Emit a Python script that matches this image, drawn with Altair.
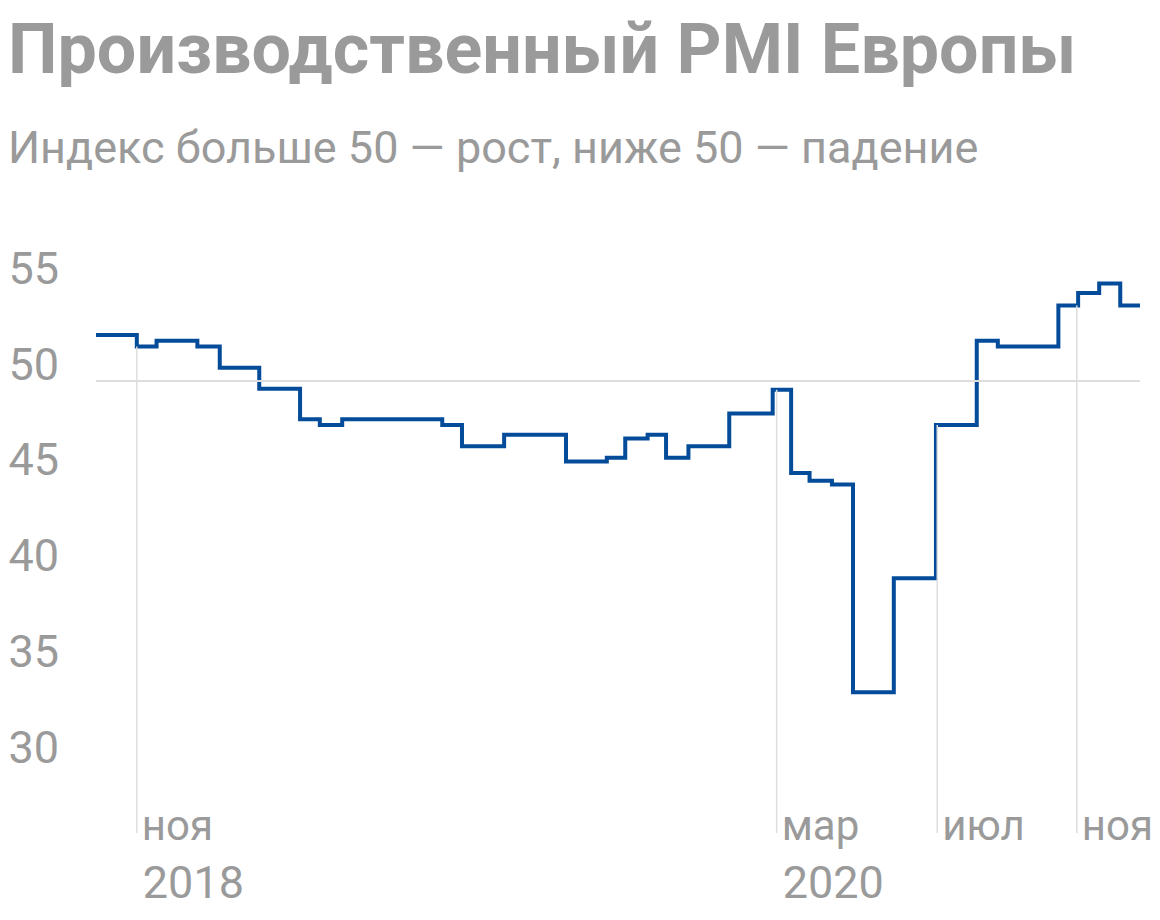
import altair as alt
import pandas as pd

# ---- data ----
dates = [
    "2018-10-01", "2018-11-01", "2018-11-16", "2018-12-17", "2019-01-03",
    "2019-02-02", "2019-03-05", "2019-03-20", "2019-04-06", "2019-06-21",
    "2019-07-06", "2019-08-07", "2019-09-23", "2019-10-24", "2019-11-07",
    "2019-11-24", "2019-12-08", "2019-12-25", "2020-01-25", "2020-02-27",
    "2020-03-12", "2020-03-26", "2020-04-12", "2020-04-28", "2020-05-29",
    "2020-06-30", "2020-07-31", "2020-08-16", "2020-10-01", "2020-10-16",
    "2020-11-01", "2020-11-17",
]
values = [
    52.4, 51.8, 52.1, 51.8, 50.7,
    49.6, 48.0, 47.7, 48.0, 47.7,
    46.6, 47.2, 45.8, 46.0, 47.0,
    47.2, 46.0, 46.6, 48.3, 49.55,
    45.2, 44.8, 44.6, 33.75, 39.7,
    47.7, 52.1, 51.8, 53.95, 54.6,
    55.1, 53.95,
]
end_date = "2020-12-02"

tick_dates = ["2018-11-01", "2020-03-01", "2020-07-01", "2020-10-15"]
tick_months = ["ноя", "мар", "июл", "ноя"]
tick_years = ["2018", "2020", "", ""]
y_ticks = [30, 35, 40, 45, 50, 55]

title_text = "Производственный PMI Европы"
subtitle_text = "Индекс больше 50 — рост, ниже 50 — падение"

# ---- layout ----
W, H = 1044, 586
YMIN, YMAX = 26.4, 57
GRAY = "#9a9a9a"
BLUE = "#044c99"
FONT = "Roboto"

series = pd.DataFrame({"date": dates + [end_date], "pmi": values + [values[-1]]})


def value_at(d):
    v = values[0]
    for dd, vv in zip(dates, values):
        if pd.Timestamp(dd) <= pd.Timestamp(d):
            v = vv
    return v


ticks_df = pd.DataFrame({
    "date": tick_dates,
    "month": tick_months,
    "year": tick_years,
    "top": [value_at(d) for d in tick_dates],
    "bottom": [YMIN] * len(tick_dates),
})

x_scale = alt.Scale(nice=False)
y_scale = alt.Scale(domain=[YMIN, YMAX], nice=False, zero=False)

y_axis = alt.Axis(
    values=y_ticks, ticks=False, domain=False, grid=False,
    labelAlign="left", labelBaseline="alphabetic", labelPadding=88,
    labelOffset=-2, labelFontSize=45, labelColor=GRAY, labelFont=FONT,
    title=None,
)

line = alt.Chart(series).mark_line(
    interpolate="step-after", color=BLUE, strokeWidth=4, strokeJoin="miter"
).encode(
    x=alt.X("date:T", scale=x_scale, axis=None),
    y=alt.Y("pmi:Q", scale=y_scale, axis=y_axis),
)

hline = alt.Chart(pd.DataFrame({"pmi": [50]})).mark_rule(
    color="#dddddd", strokeWidth=2
).encode(y=alt.Y("pmi:Q"))

vrules = alt.Chart(ticks_df).mark_rule(color="#dddddd", strokeWidth=1.5).encode(
    x=alt.X("date:T"),
    y=alt.Y("top:Q"),
    y2="bottom:Q",
)

month_labels = alt.Chart(ticks_df).mark_text(
    align="left", baseline="alphabetic", dx=5, fontSize=42, color=GRAY, font=FONT
).encode(x=alt.X("date:T"), y=alt.value(H + 7), text="month:N")

year_labels = alt.Chart(ticks_df).mark_text(
    align="left", baseline="alphabetic", dx=6, fontSize=45, color=GRAY, font=FONT
).encode(x=alt.X("date:T"), y=alt.value(H + 65), text="year:N")

title = alt.Chart(pd.DataFrame({"t": [title_text]})).mark_text(
    align="left", baseline="alphabetic", fontSize=70, fontWeight="bold",
    color=GRAY, font=FONT
).encode(x=alt.value(-88), y=alt.value(-174), text="t:N")

subtitle = alt.Chart(pd.DataFrame({"t": [subtitle_text]})).mark_text(
    align="left", baseline="alphabetic", fontSize=45, color=GRAY, font=FONT
).encode(x=alt.value(-88), y=alt.value(-84), text="t:N")

chart = alt.layer(
    line, hline, vrules, month_labels, year_labels, title, subtitle
).properties(
    width=W, height=H,
    padding={"left": 88, "top": 239, "right": 12, "bottom": 75},
).configure(
    autosize={"type": "none"}
).configure_view(stroke=None)

chart.save("out.html", embed_options={"renderer": "svg", "actions": False})
